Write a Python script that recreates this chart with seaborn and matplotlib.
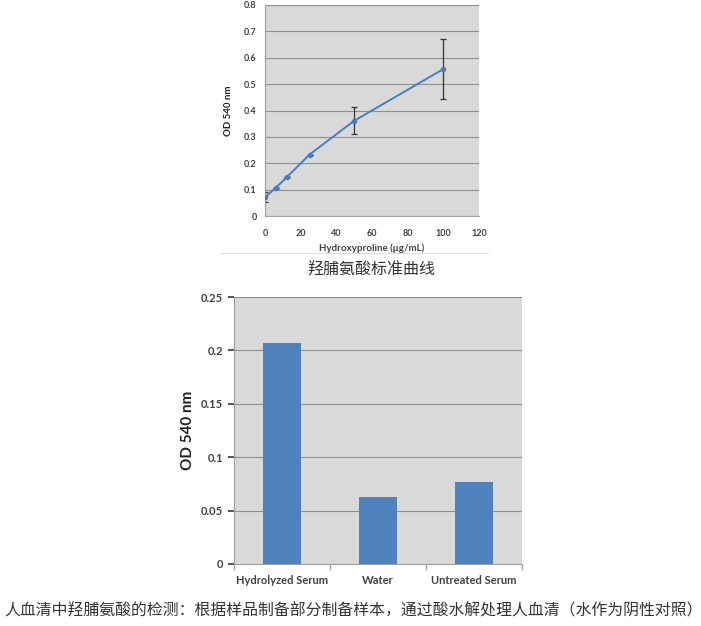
import matplotlib
matplotlib.use("Agg")
import matplotlib.pyplot as plt
import seaborn as sns
import pandas as pd

# standard curve
conc = [0, 6.25, 12.5, 25, 50, 100]
od_std = [0.071, 0.108, 0.149, 0.233, 0.361, 0.557]
err_lo = [0.017, 0.0, 0.0, 0.0, 0.051, 0.113]
err_hi = [0.019, 0.0, 0.0, 0.0, 0.052, 0.114]

# samples
samples = ["Hydrolyzed Serum", "Water", "Untreated Serum"]
od_samples = [0.2066, 0.0625, 0.0766]

caption_top = "羟脯氨酸标准曲线"
caption_bottom = "人血清中羟脯氨酸的检测：根据样品制备部分制备样本，通过酸水解处理人血清（水作为阴性对照）"

sns.set_theme(style="white")
plt.rcParams["font.family"] = ["Lato", "DejaVu Sans"]

W, H = 701, 626
fig = plt.figure(figsize=(W / 100, H / 100), dpi=100)


def box(l, t, r, b):
    return [l / W, 1 - b / H, (r - l) / W, (b - t) / H]


grey_bg = "#d9d9d9"
grid_c = "#8f8f8f"
tick_c = "#404040"
line_c = "#4a7ebb"

# top chart
ax1 = fig.add_axes(box(265, 5, 479, 216))
ax1.set_facecolor(grey_bg)
std = pd.DataFrame({"conc": conc, "od": od_std})
ax1.errorbar(conc, od_std, yerr=[err_lo, err_hi], fmt="none", ecolor="#333333",
             elinewidth=0.9, capsize=2, capthick=0.9, zorder=2.5)
sns.lineplot(data=std, x="conc", y="od", ax=ax1, color=line_c, lw=1.4,
             marker="o", markersize=4, markeredgewidth=0, zorder=3)
ax1.set_xlim(0, 120)
ax1.set_ylim(0, 0.8)
ax1.set_xticks(range(0, 121, 20))
ax1.set_yticks([i / 10 for i in range(9)])
ax1.set_yticklabels(["0"] + [f"{i / 10:.1f}" for i in range(1, 9)])
ax1.yaxis.grid(True, color=grid_c, lw=0.8)
ax1.set_axisbelow(True)
for s in ["top", "right"]:
    ax1.spines[s].set_visible(False)
for s in ["left", "bottom"]:
    ax1.spines[s].set_color("#a0a0a0")
    ax1.spines[s].set_linewidth(0.8)
ax1.tick_params(labelsize=6.5, colors=tick_c, length=0)
ax1.tick_params(axis="x", pad=9)
ax1.tick_params(axis="y", pad=6)
for t in ax1.get_xticklabels() + ax1.get_yticklabels():
    t.set_fontweight("bold")
ax1.set_xlabel("Hydroxyproline (μg/mL)", fontsize=7, fontweight="bold", color=tick_c, labelpad=4)
ax1.set_ylabel("OD 540 nm", fontsize=7, fontweight="bold", color="#222222", labelpad=8)

fig.add_artist(plt.Line2D([221 / W, 488 / W], [1 - 253 / H, 1 - 253 / H], color="#dddddd", lw=0.8))
fig.text(371 / W, 1 - 270 / H, caption_top, ha="center", va="center", fontsize=11.5,
         color="#333333", family=["Noto Sans CJK SC", "DejaVu Sans"])

# bottom chart
ax2 = fig.add_axes(box(234, 297, 522, 564))
ax2.set_facecolor(grey_bg)
samp = pd.DataFrame({"sample": samples, "od": od_samples})
sns.barplot(data=samp, x="sample", y="od", ax=ax2, color="#4f81bd", saturation=1,
            width=0.4, edgecolor="none", linewidth=0, zorder=3)
ax2.set_xlim(-0.5, 2.5)
ax2.set_ylim(0, 0.25)
ax2.set_yticks([0, 0.05, 0.1, 0.15, 0.2, 0.25])
ax2.set_yticklabels(["0", "0.05", "0.1", "0.15", "0.2", "0.25"])
ax2.yaxis.grid(True, color=grid_c, lw=0.8)
ax2.set_axisbelow(True)
for s in ["top", "right"]:
    ax2.spines[s].set_visible(False)
for s in ["left", "bottom"]:
    ax2.spines[s].set_color("#a0a0a0")
    ax2.spines[s].set_linewidth(0.8)
ax2.set_xticks([-0.5, 0.5, 1.5, 2.5], minor=True)
ax2.tick_params(axis="x", which="minor", length=4, color="#a0a0a0", bottom=True)
ax2.tick_params(axis="x", which="major", length=0, pad=8)
ax2.tick_params(axis="y", length=4, color="#a0a0a0", left=True, pad=4)
ax2.tick_params(labelsize=8, colors=tick_c)
for t in ax2.get_xticklabels() + ax2.get_yticklabels():
    t.set_fontweight("bold")
ax2.set_xlabel("")
ax2.set_ylabel("OD 540 nm", fontsize=11, fontweight="bold", color="#222222", labelpad=4)

fig.text(4 / W, 1 - 611 / H, caption_bottom, ha="left", va="center", fontsize=11.4,
         color="#333333", family=["Noto Sans CJK SC", "DejaVu Sans"])

fig.savefig("out.png", dpi=100, facecolor="white")
